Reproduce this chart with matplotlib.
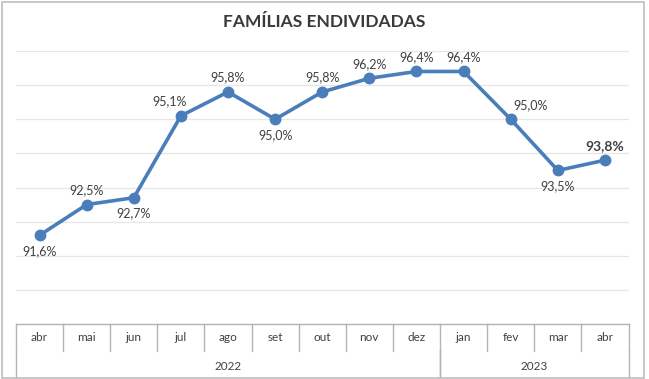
import matplotlib.pyplot as plt
from matplotlib.patches import Rectangle

# ===================== DATA =====================
months = ['abr', 'mai', 'jun', 'jul', 'ago', 'set', 'out', 'nov', 'dez',
          'jan', 'fev', 'mar', 'abr']
years = ['2022', '2023']
year_counts = [9, 4]
values = [91.6, 92.5, 92.7, 95.1, 95.8, 95.0, 95.8, 96.2, 96.4,
          96.4, 95.0, 93.5, 93.8]
# label placement: +1 above, -1 below
label_side = [-1, 1, -1, 1, 1, -1, 1, 1, 1, 1, 1, -1, 1]

# ===================== STYLE =====================
plt.rcParams['font.family'] = ['Lato', 'DejaVu Sans']
line_color = '#4a7ebb'
grid_color = '#e6e6e6'
table_color = '#b4b4b4'
text_color = '#404040'

W, H = 649, 379
fig = plt.figure(figsize=(W / 100, H / 100), dpi=100)

# outer chart border
fig.patches.append(Rectangle((1.5 / W, 1.5 / H), (W - 7) / W, (H - 3) / H,
                             transform=fig.transFigure, fill=False,
                             edgecolor='#bdbdbd', lw=1.2))

left, right, top, bottom = 16, 628.5, 51, 324
ax = fig.add_axes([left / W, 1 - bottom / H, (right - left) / W, (bottom - top) / H])
n = len(months)
ax.set_xlim(-0.5, n - 0.5)
ax.set_ylim(89, 97)
ax.set_yticks(range(89, 98))
ax.yaxis.grid(True, color=grid_color, lw=0.9)
ax.set_axisbelow(True)
ax.tick_params(left=False, labelleft=False, bottom=False, labelbottom=False)
for s in ax.spines.values():
    s.set_visible(False)

x = list(range(n))
ax.plot(x, values, color=line_color, lw=2.6, marker='o', ms=7.5,
        solid_capstyle='round', zorder=3)

for i, (v, side) in enumerate(zip(values, label_side)):
    lab = f'{v:.1f}%'.replace('.', ',')
    last = i == n - 1
    dx = {3: -8, 10: 14}.get(i, 0)
    dy = 6 if side > 0 else -7
    ax.annotate(lab, (i, v), xytext=(dx, dy), textcoords='offset points',
                ha='center', va='bottom' if side > 0 else 'top',
                fontsize=10 if last else 9,
                fontweight='bold' if last else 'normal',
                color=text_color)

# ===================== CATEGORY TABLE =====================
tr = ax.get_xaxis_transform()
ph = bottom - top
row1 = -(351 - bottom) / ph
row2 = -(377 - bottom) / ph
ax.plot([-0.5, n - 0.5], [0, 0], color=table_color, lw=1, transform=tr, clip_on=False)
for k in range(n + 1):
    ax.plot([k - 0.5, k - 0.5], [0, row1], color=table_color, lw=1,
            transform=tr, clip_on=False)
for i, m in enumerate(months):
    ax.text(i, row1 / 2, m, transform=tr, ha='center', va='center',
            fontsize=8.5, color=text_color)

start = 0
for yr, cnt in zip(years, year_counts):
    for edge in (start, start + cnt):
        ax.plot([edge - 0.5, edge - 0.5], [row1, row2], color=table_color, lw=1,
                transform=tr, clip_on=False)
    ax.text(start + cnt / 2 - 0.5, (row1 + row2) / 2 - 0.01, yr, transform=tr,
            ha='center', va='center', fontsize=8.5, color=text_color)
    start += cnt

fig.text(0.5, 1 - 22 / H, 'FAMÍLIAS ENDIVIDADAS', ha='center', va='center',
         fontsize=12.5, fontweight='bold', color='#3a3a3a')

fig.savefig('out.png', dpi=100)
